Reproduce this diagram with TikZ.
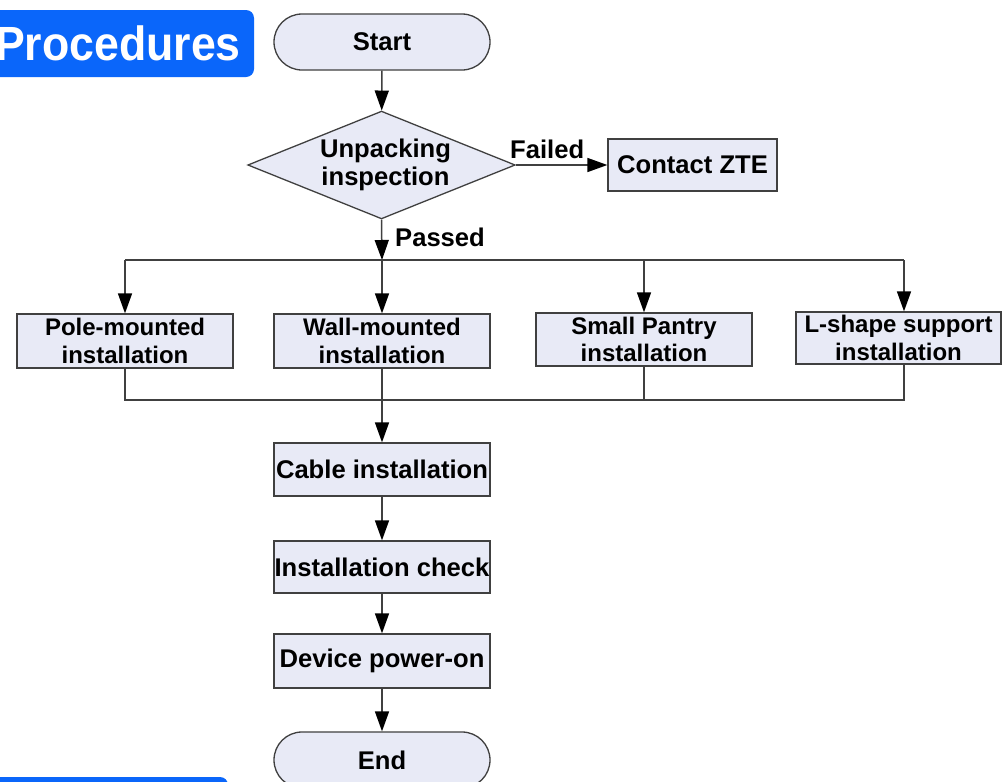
\documentclass[tikz,border=0pt]{standalone}
\usepackage{fontspec}
\setmainfont{Liberation Sans}
\newfontfamily\procfont{Liberation Sans}[FakeStretch=0.93]
\usetikzlibrary{shapes.geometric,arrows.meta,calc}
\definecolor{boxfill}{RGB}{232,234,246}
\definecolor{linegray}{RGB}{64,64,64}
\definecolor{zteblue}{RGB}{10,102,250}
\tikzset{
  x=1pt, y=-1pt,
  txt/.style={font=\bfseries\fontsize{25.6}{29}\selectfont, align=center, text=black},
  smalltxt/.style={font=\bfseries\fontsize{24}{27.5}\selectfont},
  procbox/.style={txt, draw=linegray, line width=1.3pt, fill=boxfill, inner sep=0pt, minimum width=216pt, minimum height=54pt},
  terminal/.style={procbox, rounded corners=27pt},
  decision/.style={txt, diamond, draw=linegray, line width=1.3pt, fill=boxfill, inner sep=0pt, aspect=2.48, minimum width=263pt, minimum height=106pt},
  flow/.style={draw=linegray, line width=1.5pt, -{Triangle[length=20pt,width=14pt,color=black]}},
  plain/.style={draw=linegray, line width=1.5pt},
  lbl/.style={font=\bfseries\fontsize{25.6}{29}\selectfont, inner sep=0pt}
}
\begin{document}
\begin{tikzpicture}
\useasboundingbox (0,0) rectangle (1007,782);
\clip (0,0) rectangle (1007,782);
\fill[white] (0,0) rectangle (1007,782);
% blue tabs
\fill[zteblue, rounded corners=8pt] (-20,10) rectangle (254,77);
\node[font=\procfont\bfseries\fontsize{48}{52}\selectfont, text=white, anchor=east, inner sep=0pt] (proc) at (241,43) {Procedures};
\fill[zteblue, rounded corners=8pt] (-20,777) rectangle (228,810);
% nodes
\node[terminal, minimum height=56pt, rounded corners=28pt] (start) at (382,42) {Start};
\node[decision] (dec) at (381.5,165) {\hspace*{8pt}Unpacking\\[-1pt]\hspace*{8pt}inspection};
\node[procbox, minimum width=169pt, minimum height=52pt] (zte) at (692.5,165) {Contact ZTE};
\node[procbox, smalltxt] (pole) at (125,341) {Pole-mounted\\installation};
\node[procbox, smalltxt] (wall) at (382,341) {Wall-mounted\\installation};
\node[procbox, smalltxt, minimum height=53pt] (pantry) at (644,339.5) {Small Pantry\\installation};
\node[procbox, smalltxt, minimum width=205pt, minimum height=52pt] (lshape) at (898.5,338) {L-shape support\\installation};
\node[procbox, minimum height=53pt] (cable) at (382,469.5) {Cable installation};
\node[procbox, minimum height=52pt] (check) at (382,567) {Installation check};
\node[procbox] (power) at (382,661) {Device power-on};
\node[terminal, minimum height=56pt, rounded corners=28pt] (end) at (382,760) {End};
% junctions
\coordinate (t1) at (125,260);
\coordinate (tc) at (382,260);
\coordinate (t3) at (644,260);
\coordinate (t4) at (904,260);
\coordinate (b1) at (125,400);
\coordinate (bc) at (382,400);
\coordinate (b3) at (644,400);
\coordinate (b4) at (904,400);
% connectors
\draw[flow] (start) -- (dec);
\draw[flow] (dec.east) -- (zte.west);
\node[lbl, anchor=base west] (failed) at (510,158) {Failed};
\draw[flow] (dec.south) -- (tc);
\node[lbl, anchor=base west] (passed) at (395,246) {Passed};
\draw[plain] (t1) -- (t4);
\draw[flow] (t1) -- (pole.north);
\draw[flow] (tc) -- (wall.north);
\draw[flow] (t3) -- (pantry.north);
\draw[flow] (t4) -- (t4 |- lshape.north);
\draw[plain] (pole.south) -- (b1) -- (b4) -- (b4 |- lshape.south);
\draw[plain] (wall.south) -- (bc);
\draw[plain] (pantry.south) -- (b3);
\draw[flow] (bc) -- (cable.north);
\draw[flow] (cable) -- (check);
\draw[flow] (check) -- (power);
\draw[flow] (power) -- (end);
\end{tikzpicture}
\end{document}
